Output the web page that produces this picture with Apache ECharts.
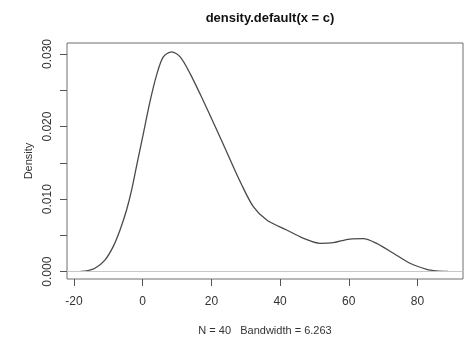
<!DOCTYPE html>
<html>
<head>
<meta charset="utf-8">
<script src="https://cdn.jsdelivr.net/npm/echarts@6/dist/echarts.min.js"></script>
<style>
  html, body { margin: 0; padding: 0; background: #fff; }
  #chart { width: 467px; height: 350px; }
</style>
</head>
<body>
<div id="chart"></div>
<script>
// density estimate
const xs = [-18.1, -16, -13.9, -11, -8.6, -6.6, -4.7, -3.2, -1.6, 0.0, 2.1, 4.1, 6.0, 8.4, 10.9,
  13.8, 17.6, 21.5, 25.4, 28.6, 32.2, 36.1, 41.9, 46.8, 51.6, 55.5, 60.3, 64.2, 68.1,
  73.0, 77.8, 82.7, 85.5, 88.9];
const density = [0.00003, 0.00015, 0.00047, 0.0016, 0.00345, 0.00575, 0.0085, 0.0113, 0.0150,
  0.0186, 0.0234, 0.0272, 0.0296, 0.0303, 0.0296, 0.0273, 0.0236, 0.0196, 0.0155, 0.0122,
  0.00896, 0.00713, 0.00575, 0.0046, 0.00391, 0.0040, 0.0045, 0.00455, 0.0039,
  0.00254, 0.00116, 0.00033, 0.00012, 0.00003];

const xTicks = [-20, 0, 20, 40, 60, 80];
const yTicks = [0, 0.005, 0.01, 0.015, 0.02, 0.025, 0.03];
const yLabels = [0, 0.01, 0.02, 0.03];

const mainTitle = "density.default(x = c)";
const xLabel = "N = 40   Bandwidth = 6.263";
const yLabel = "Density";

const font = "Liberation Sans, Arial, sans-serif";
const chart = echarts.init(document.getElementById("chart"));

chart.setOption({
  animation: false,
  backgroundColor: "#fff",
  title: {
    text: mainTitle,
    left: 265,
    top: 7,
    textAlign: "center",
    textStyle: { fontFamily: font, fontSize: 13, fontWeight: "bold", color: "#111" },
  },
  grid: {
    left: 67, top: 43, width: 396, height: 236,
    show: true, borderColor: "#6e6e6e", borderWidth: 1,
  },
  xAxis: {
    type: "value",
    min: -22.04,
    max: 93.25,
    axisLine: { show: false, onZero: false },
    splitLine: { show: false },
    axisTick: { show: true, length: 7, lineStyle: { color: "#555" }, customValues: xTicks },
    axisLabel: {
      customValues: xTicks,
      margin: 17,
      fontFamily: font, fontSize: 12, color: "#333",
    },
    name: xLabel,
    nameLocation: "middle",
    nameGap: 46,
    nameTextStyle: { fontFamily: font, fontSize: 11, color: "#333" },
  },
  yAxis: {
    type: "value",
    min: -0.00101,
    max: 0.03152,
    axisLine: { show: false, onZero: false },
    splitLine: { show: false },
    axisTick: { show: true, length: 7, lineStyle: { color: "#555" }, customValues: yTicks },
    axisLabel: {
      customValues: yLabels,
      rotate: 90,
      margin: 13,
      fontFamily: font, fontSize: 12, color: "#333",
      formatter: (v) => v.toFixed(3),
    },
    name: yLabel,
    nameLocation: "middle",
    nameGap: 32,
    nameTextStyle: { fontFamily: font, fontSize: 11, color: "#333" },
  },
  series: [
    {
      type: "line",
      smooth: 0.3,
      showSymbol: false,
      lineStyle: { color: "#4a4a4a", width: 1.3 },
      data: xs.map((x, i) => [x, density[i]]),
      markLine: {
        silent: true,
        symbol: "none",
        label: { show: false },
        lineStyle: { color: "#c8c8c8", width: 1, type: "solid" },
        data: [{ yAxis: 0 }],
      },
    },
  ],
});
</script>
</body>
</html>
